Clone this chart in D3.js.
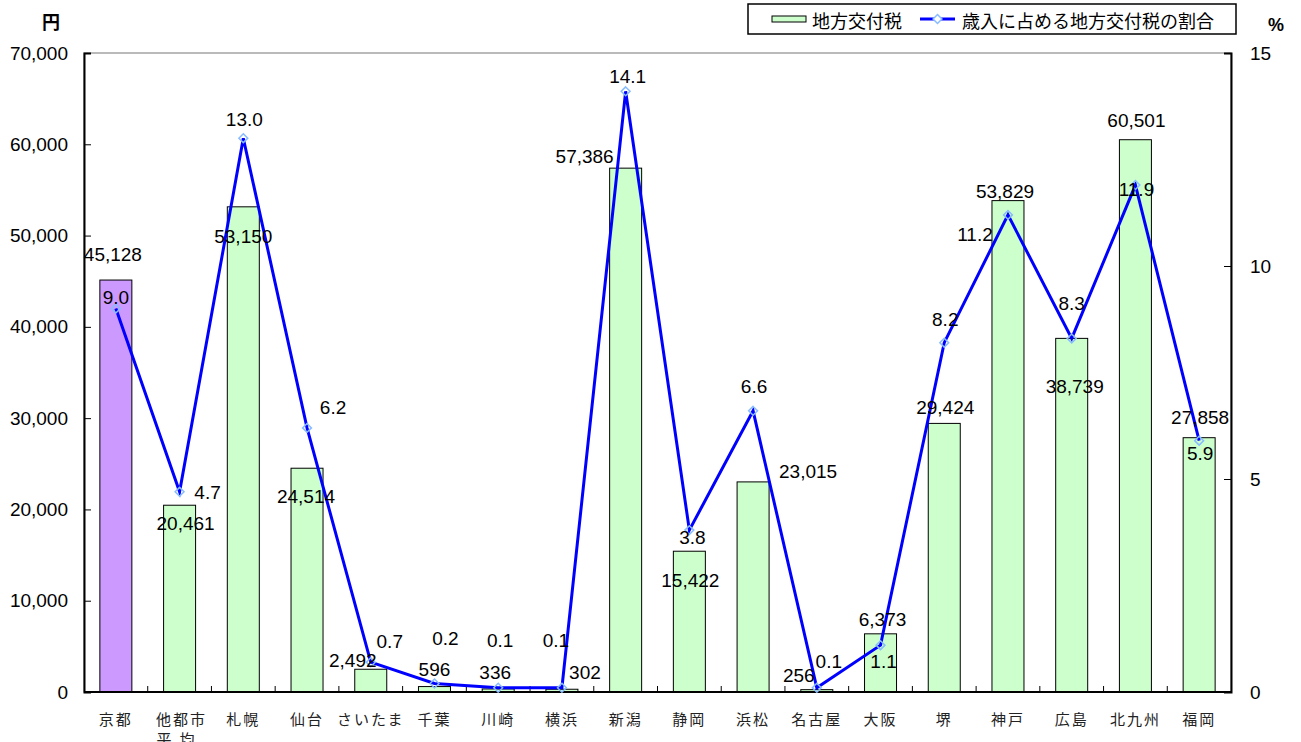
<!DOCTYPE html>
<html>
<head>
<meta charset="utf-8">
<script src="https://cdn.jsdelivr.net/npm/d3@7"></script>
<style>
  body { margin: 0; background: #fff; }
  svg text { font-family: "Liberation Sans", Arial, sans-serif; fill: #000; }
  .jp { font-family: "Noto Sans CJK JP", sans-serif; }
</style>
</head>
<body>
<div id="chart"></div>
<script>
// Data
const cities = ["京都", "他都市平均", "札幌", "仙台", "さいたま", "千葉", "川崎", "横浜", "新潟",
                "静岡", "浜松", "名古屋", "大阪", "堺", "神戸", "広島", "北九州", "福岡"];
const koufuzei = [45128, 20461, 53150, 24514, 2492, 596, 336, 302, 57386,
                  15422, 23015, 256, 6373, 29424, 53829, 38739, 60501, 27858];
const wariai = [9.0, 4.7, 13.0, 6.2, 0.7, 0.2, 0.1, 0.1, 14.1,
                3.8, 6.6, 0.1, 1.1, 8.2, 11.2, 8.3, 11.9, 5.9];
const leftTicks = [0, 10000, 20000, 30000, 40000, 50000, 60000, 70000];
const rightTicks = [0, 5, 10, 15];

// label nudges (Excel-style manual placement), [dx, dy] from the anchor point
const barLabelOffset = [[-3,-26],[6,18],[0,30],[-1,28],[-18,-9],[0,-17],[-3,-17],[23,-17],[-41,-12],
                        [1,29],[55,-11],[-18,-14],[2,-14],[1,-16],[-3,-9],[3,48],[1,-19],[1,-20]];
const pctLabelOffset = [[0,-11],[28,1],[1,-19],[26,-21],[19,-21],[11,-45],[2,-47],[-6,-47],[2,-15],
                        [3,7],[1,-24],[12,-26],[3,16],[1,-23],[-33,19],[0,-35],[1,4],[1,13]];

// Layout
const svgWidth = 1301;
const svgHeight = 742;
const margin = { top: 53, right: 70, bottom: 50, left: 84 };
const width = 1231 - margin.left;
const height = 692 - margin.top;

const svg = d3.select("#chart")
  .append("svg")
  .attr("width", svgWidth)
  .attr("height", svgHeight);

const chartGroup = svg.append("g")
  .attr("transform", `translate(${margin.left}, ${margin.top})`);

// Scales
const xScale = d3.scaleBand().domain(cities).range([0, width]);
const yLeft = d3.scaleLinear().domain([0, 70000]).range([height, 0]);
const yRight = d3.scaleLinear().domain([0, 15]).range([height, 0]);
const fmt = d3.format(",");

// plot frame
chartGroup.append("rect")
  .attr("width", width)
  .attr("height", height)
  .attr("fill", "none")
  .attr("stroke", "#777")
  .attr("stroke-width", 1);

// Bars
const barW = 32;
chartGroup.selectAll("rect.bar")
  .data(koufuzei)
  .enter()
  .append("rect")
  .attr("class", "bar")
  .attr("x", (d, i) => xScale(cities[i]) + xScale.bandwidth() / 2 - barW / 2)
  .attr("y", d => yLeft(d))
  .attr("width", barW)
  .attr("height", d => height - yLeft(d))
  .attr("fill", (d, i) => i === 0 ? "#cc99ff" : "#ccffcc")
  .attr("stroke", "#000")
  .attr("stroke-width", 1);

// Left axis
const leftAxis = d3.axisLeft(yLeft).tickValues(leftTicks).tickSize(-7).tickPadding(16).tickFormat(fmt);
const gl = chartGroup.append("g").call(leftAxis);
gl.select(".domain").attr("stroke", "#000").attr("stroke-width", 2);
gl.selectAll("line").attr("stroke", "#000");
gl.selectAll("text").attr("font-size", 19).style("font-family", "Liberation Sans, Arial, sans-serif");

// Right axis
const rightAxis = d3.axisRight(yRight).tickValues(rightTicks).tickSize(-7).tickPadding(19);
const gr = chartGroup.append("g").attr("transform", `translate(${width}, 0)`).call(rightAxis);
gr.select(".domain").attr("stroke", "#000").attr("stroke-width", 2);
gr.selectAll("line").attr("stroke", "#000");
gr.selectAll("text").attr("font-size", 19).style("font-family", "Liberation Sans, Arial, sans-serif");

// Bottom axis with ticks at category boundaries
const gb = chartGroup.append("g").attr("transform", `translate(0, ${height})`);
gb.append("line").attr("x1", 0).attr("x2", width).attr("stroke", "#000").attr("stroke-width", 2);
gb.selectAll("line.tk")
  .data(cities.slice(1))
  .enter()
  .append("line")
  .attr("class", "tk")
  .attr("x1", d => xScale(d))
  .attr("x2", d => xScale(d))
  .attr("y1", 0)
  .attr("y2", -6)
  .attr("stroke", "#000");

gb.selectAll("text.xl")
  .data(cities)
  .enter()
  .append("text")
  .attr("class", "xl jp")
  .attr("x", d => xScale(d) + xScale.bandwidth() / 2)
  .attr("y", 33)
  .attr("text-anchor", "middle")
  .attr("font-size", 15)
  .attr("letter-spacing", 2)
  .style("fill", "#222")
  .each(function(d) {
    const t = d3.select(this);
    if (d === "他都市平均") {
      t.append("tspan").attr("x", xScale(d) + xScale.bandwidth() / 2).attr("dx", 2).text("他都市");
      t.append("tspan").attr("x", xScale(d) + xScale.bandwidth() / 2).attr("dy", 20).attr("letter-spacing", 8).text("平均");
    } else {
      t.text(d);
    }
  });

// Line
const cx = i => xScale(cities[i]) + xScale.bandwidth() / 2;
const line = d3.line()
  .x((d, i) => cx(i))
  .y(d => yRight(d));

chartGroup.append("path")
  .datum(wariai)
  .attr("d", line)
  .attr("fill", "none")
  .attr("stroke", "#0000ff")
  .attr("stroke-width", 3);

const diamond = d3.symbol().type(d3.symbolDiamond2).size(50);
chartGroup.selectAll("path.mk")
  .data(wariai)
  .enter()
  .append("path")
  .attr("class", "mk")
  .attr("d", diamond)
  .attr("transform", (d, i) => `translate(${cx(i)}, ${yRight(d)})`)
  .attr("fill", "none")
  .attr("stroke", "#88bbff")
  .attr("stroke-width", 1.5);

// Data labels
chartGroup.selectAll("text.bl")
  .data(koufuzei)
  .enter()
  .append("text")
  .attr("class", "bl")
  .attr("x", (d, i) => cx(i) + barLabelOffset[i][0])
  .attr("y", (d, i) => yLeft(d) + barLabelOffset[i][1])
  .attr("dy", "0.35em")
  .attr("text-anchor", "middle")
  .attr("font-size", 19)
  .text(d => fmt(d));

chartGroup.selectAll("text.pl")
  .data(wariai)
  .enter()
  .append("text")
  .attr("class", "pl")
  .attr("x", (d, i) => cx(i) + pctLabelOffset[i][0])
  .attr("y", (d, i) => yRight(d) + pctLabelOffset[i][1])
  .attr("dy", "0.35em")
  .attr("text-anchor", "middle")
  .attr("font-size", 19)
  .text(d => d.toFixed(1));

// Unit labels
svg.append("text").attr("class", "jp").attr("x", 51).attr("y", 29)
  .attr("text-anchor", "middle").attr("font-size", 18).attr("font-weight", "bold").text("円");
svg.append("text").attr("x", 1276).attr("y", 31)
  .attr("text-anchor", "middle").attr("font-size", 18).attr("font-weight", "bold").text("%");

// Legend
const legend = svg.append("g").attr("transform", "translate(748, 4)");
legend.append("rect")
  .attr("width", 488).attr("height", 30)
  .attr("fill", "#fff").attr("stroke", "#000").attr("stroke-width", 1.5);
legend.append("rect")
  .attr("x", 24).attr("y", 12).attr("width", 34).attr("height", 6)
  .attr("fill", "#ccffcc").attr("stroke", "#000");
legend.append("text").attr("class", "jp").attr("x", 64).attr("y", 22)
  .attr("dy", "0.1em").attr("font-size", 18).text("地方交付税");
legend.append("line")
  .attr("x1", 172).attr("x2", 207).attr("y1", 15).attr("y2", 15)
  .attr("stroke", "#0000ff").attr("stroke-width", 3);
legend.append("path")
  .attr("d", diamond)
  .attr("transform", "translate(189.5, 15)")
  .attr("fill", "#fff").attr("stroke", "#88bbff").attr("stroke-width", 1.5);
legend.append("text").attr("class", "jp").attr("x", 214).attr("y", 22)
  .attr("dy", "0.1em").attr("font-size", 18).text("歳入に占める地方交付税の割合");
</script>
</body>
</html>
